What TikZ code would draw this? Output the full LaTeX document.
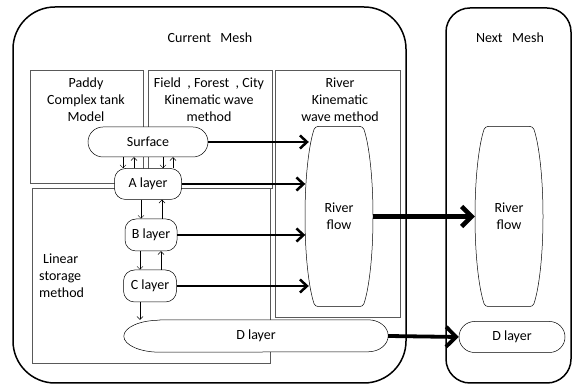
\documentclass[tikz,border=0pt]{standalone}
\usepackage{fontspec}
\setmainfont{Carlito}
\usetikzlibrary{arrows.meta}

\begin{document}
\begin{tikzpicture}[x=1pt, y=1pt,
    every node/.style={font=\fontsize{14}{17}\selectfont, align=center, inner sep=0pt},
    mesh/.style={draw, line width=1.5pt},
    area/.style={draw=black!65, line width=0.7pt},
    layer/.style={draw, fill=white, line width=0.5pt, rounded corners=11pt},
    flux/.style={line width=2.5pt, -{Straight Barb[length=7pt,width=13pt]}},
    bigflux/.style={line width=4.5pt, -{Straight Barb[length=10pt,width=20pt]}},
    seep/.style={line width=0.5pt, -{Straight Barb[length=3pt,width=6pt]}},
    riverbody/.pic={\draw[line width=0.5pt] (-21,90) -- (21,90) .. controls (23,90) and (24,89) .. (25,87)
      .. controls (30,72) and (34,40) .. (34,0) .. controls (34,-40) and (30,-72) .. (25,-87)
      .. controls (24,-89) and (23,-90) .. (21,-90) -- (-21,-90) .. controls (-23,-90) and (-24,-89) .. (-25,-87)
      .. controls (-30,-72) and (-34,-40) .. (-34,0) .. controls (-34,40) and (-30,72) .. (-25,87)
      .. controls (-24,89) and (-23,90) .. (-21,90) -- cycle;}
    ]
  \useasboundingbox (0,0) rectangle (573,385);
  \draw[mesh, rounded corners=42pt] (13,2) rectangle (406,378);
  \draw[mesh, rounded corners=24pt] (446,2) rectangle (571,377);
  \node (curmesh) at (210,347) {Current~~~Mesh};
  \node (nextmesh) at (510,347) {Next~~~Mesh};

  \draw[area] (30,202) rectangle (143,315);
  \draw[area] (148,197) rectangle (272,315);
  \draw[area] (275,68) rectangle (400,315);
  \draw[area] (32,22) rectangle (270,197);
  \node (paddy) at (86,285) {Paddy\\Complex tank\\Model};
  \node (field) at (209,285) {Field~~, Forest~~, City\\Kinematic wave\\method};
  \node (rivmethod) at (340,285) {River\\Kinematic\\wave method};
  \node[align=left, anchor=west] (linear) at (39,109) {\hspace{4pt}Linear\\storage\\method};

  \node[layer, rounded corners=15pt, minimum width=120pt, minimum height=30pt] (surf) at (148,243) {Surface};
  \node[layer, minimum width=67pt, minimum height=31pt] (alay) at (148,201) {A layer};
  \node[layer, minimum width=52pt, minimum height=32pt] (blay) at (151,150) {B layer};
  \node[layer, minimum width=53pt, minimum height=32pt] (clay) at (150,99) {C layer};
  \node[minimum width=264pt, minimum height=32pt] (dcur) at (256,49) {};
  \draw[fill=white, line width=0.5pt] ([xshift=36pt]dcur.north west) -- ([xshift=-20pt]dcur.north east)
    arc[start angle=90, end angle=-90, x radius=20pt, y radius=16pt] -- ([xshift=36pt]dcur.south west)
    arc[start angle=270, end angle=90, x radius=36pt, y radius=16pt] -- cycle;
  \node at (dcur) {D layer};
  \node[layer, rounded corners=15.5pt, minimum width=106pt, minimum height=31pt] (dnext) at (512,48) {D layer};

  \pic at (339,168.5) {riverbody};
  \node[minimum width=68pt, minimum height=181pt] (rivA) at (339,168.5) {River\\flow};
  \pic at (509,168.5) {riverbody};
  \node[minimum width=68pt, minimum height=181pt] (rivB) at (509,168.5) {River\\flow};

  \draw[seep] ([xshift=-25pt]surf.south) -- ([xshift=-25pt]alay.north);
  \draw[seep] ([xshift=-14pt]alay.north) -- ([xshift=-14pt]surf.south);
  \draw[seep] ([xshift=15pt]surf.south) -- ([xshift=15pt]alay.north);
  \draw[seep] ([xshift=25pt]alay.north) -- ([xshift=25pt]surf.south);
  \draw[seep] ([xshift=-10pt]blay.north |- alay.south) -- ([xshift=-10pt]blay.north);
  \draw[seep] ([xshift=11pt]blay.north) -- ([xshift=11pt]blay.north |- alay.south);
  \draw[seep] ([xshift=-10pt]clay.north |- blay.south) -- ([xshift=-10pt]clay.north);
  \draw[seep] ([xshift=11pt]clay.north) -- ([xshift=11pt]clay.north |- blay.south);
  \draw[seep] ([xshift=-10pt]clay.south) -- ([xshift=-10pt]clay.south |- dcur.north);

  \draw[flux] (surf.east) -- ([xshift=4pt]surf.east -| rivA.west);
  \draw[flux] (alay.east) -- ([xshift=0.5pt]alay.east -| rivA.west);
  \draw[flux] (blay.east) -- ([xshift=0.5pt]blay.east -| rivA.west);
  \draw[flux] (clay.east) -- ([xshift=4pt]clay.east -| rivA.west);
  \draw[bigflux] (rivA.east) -- (rivB.west);
  \draw[bigflux, line width=3.8pt] (dcur.east) -- (dnext.west);
\end{tikzpicture}
\end{document}
